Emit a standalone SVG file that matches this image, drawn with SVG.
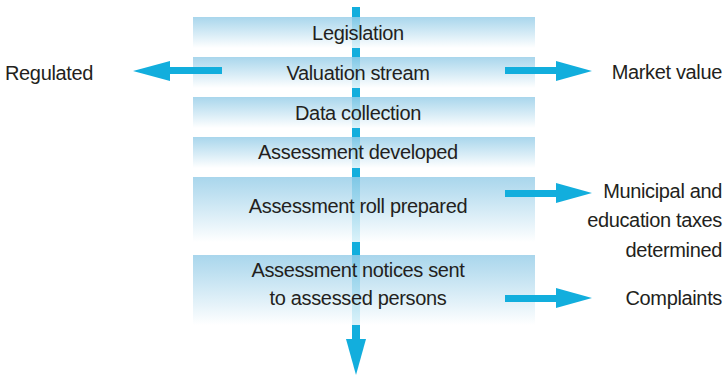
<svg xmlns="http://www.w3.org/2000/svg" width="725" height="376" viewBox="0 0 725 376">
<defs>
<linearGradient id="band" x1="0" y1="0" x2="0" y2="1">
<stop offset="0" stop-color="#96cde8" stop-opacity="0.82"/>
<stop offset="1" stop-color="#ffffff" stop-opacity="0.85"/>
</linearGradient>
<style>
.b{fill:url(#band)}
.t{font-family:"Liberation Sans",Arial,sans-serif;font-size:20px;letter-spacing:-0.35px;fill:#231f20}
.c{text-anchor:middle}
.r{text-anchor:end}
.a{fill:#12aedd}
</style>
</defs>
<g id="spine">
<rect class="a" x="352" y="7" width="8" height="333"/>
<polygon class="a" points="346,339 366,339 356,375"/>
</g>
<g id="legislation"><rect class="b" x="193" y="17" width="342" height="31"/><text class="t c" x="358" y="40">Legislation</text></g>
<g id="valuation"><rect class="b" x="193" y="57" width="342" height="31"/><text class="t c" x="358" y="80">Valuation stream</text></g>
<g id="data"><rect class="b" x="193" y="97" width="342" height="31"/><text class="t c" x="358" y="120">Data collection</text></g>
<g id="developed"><rect class="b" x="193" y="137" width="342" height="31"/><text class="t c" x="358" y="159">Assessment developed</text></g>
<g id="roll"><rect class="b" x="193" y="177" width="342" height="65"/><text class="t c" x="358" y="213">Assessment roll prepared</text></g>
<g id="notices"><rect class="b" x="193" y="255" width="342" height="70"/><text class="t c" x="358" y="277">Assessment notices sent</text><text class="t c" x="358" y="305">to assessed persons</text></g>
<g id="connectors">
<rect class="a" x="168" y="67" width="54" height="7"/>
<polygon class="a" points="133,71 170,61 170,81"/>
<rect class="a" x="505" y="67" width="54" height="7"/>
<polygon class="a" points="592,71 556,61 556,81"/>
<rect class="a" x="505" y="190" width="54" height="7"/>
<polygon class="a" points="592,193 556,183 556,203"/>
<rect class="a" x="505" y="295" width="54" height="7"/>
<polygon class="a" points="592,298 556,288 556,308"/>
</g>
<g id="regulated"><text class="t" x="5" y="80">Regulated</text></g>
<g id="market"><text class="t r" x="722" y="79">Market value</text></g>
<g id="taxes"><text class="t r" x="722" y="198">Municipal and</text><text class="t r" x="722" y="227">education taxes</text><text class="t r" x="722" y="257">determined</text></g>
<g id="complaints"><text class="t r" x="722" y="305">Complaints</text></g>
</svg>
